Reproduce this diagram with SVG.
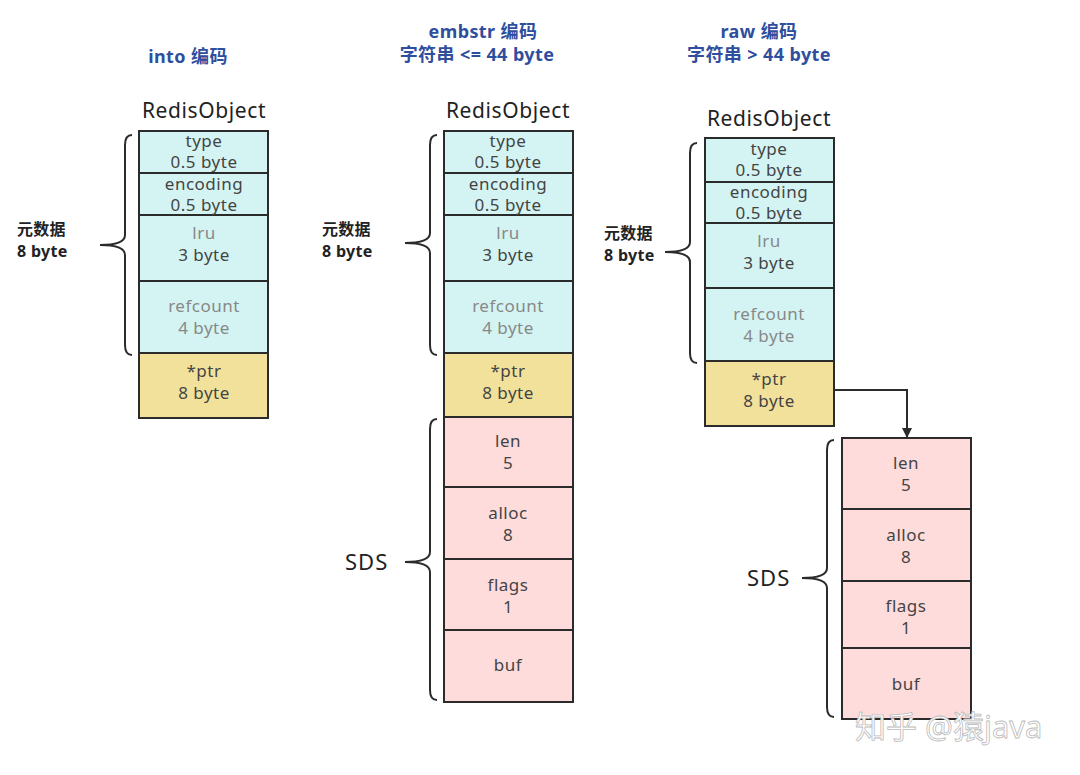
<svg xmlns="http://www.w3.org/2000/svg" width="1080" height="775" viewBox="0 0 1080 775">
<style>
text{font-family:"Noto Sans","Noto Sans CJK SC",sans-serif;text-anchor:middle;}
.title{fill:#2f4f9e;font-size:18px;font-weight:bold;letter-spacing:0.4px;}
.ro{fill:#222;font-size:21px;letter-spacing:0.6px;}
.cell{font-size:17px;fill:#444;letter-spacing:0.5px;}
.gray{fill:#888;}
.side{font-size:16px;fill:#222;text-anchor:start;font-weight:bold;letter-spacing:0.3px;}
.sds{font-size:22px;fill:#222;text-anchor:start;letter-spacing:1px;}
.cyan{fill:#d4f4f3;stroke:#2b2b2b;stroke-width:2;}
.yel{fill:#f2e19b;stroke:#2b2b2b;stroke-width:2;}
.pink{fill:#fedcdc;stroke:#2b2b2b;stroke-width:2;}
.brace{fill:none;stroke:#2b2b2b;stroke-width:2;}
.wm{font-size:31px;fill:#fff;stroke:#bbb;stroke-width:0.8;text-anchor:start;}
</style>
<defs>
<marker id="arr" markerWidth="10" markerHeight="10" refX="9" refY="5" orient="auto" markerUnits="userSpaceOnUse"><path d="M0,0 L10,5 L0,10 z" fill="#2b2b2b"/></marker>
</defs>
<rect width="1080" height="775" fill="#fff"/>

<g id="titles">
<text class="title" x="188" y="63">into 编码</text>
<text class="title" x="483" y="38">embstr 编码</text>
<text class="title" x="477" y="61">字符串 &lt;= 44 byte</text>
<text class="title" x="759" y="38">raw 编码</text>
<text class="title" x="759" y="61">字符串 &gt; 44 byte</text>
</g>

<g id="obj-int">
<text class="ro" x="204" y="118">RedisObject</text>
<rect class="cyan" x="139" y="131" width="129" height="42"/>
<rect class="cyan" x="139" y="173" width="129" height="42"/>
<rect class="cyan" x="139" y="215" width="129" height="66"/>
<rect class="cyan" x="139" y="281" width="129" height="72"/>
<rect class="yel" x="139" y="353" width="129" height="65"/>
<text class="cell" x="204" y="147">type</text>
<text class="cell" x="204" y="168">0.5 byte</text>
<text class="cell" x="204" y="190">encoding</text>
<text class="cell" x="204" y="211">0.5 byte</text>
<text class="cell gray" x="204" y="239">lru</text>
<text class="cell" x="204" y="261">3 byte</text>
<text class="cell gray" x="204" y="312">refcount</text>
<text class="cell gray" x="204" y="334">4 byte</text>
<text class="cell" x="204" y="377">*ptr</text>
<text class="cell" x="204" y="399">8 byte</text>
<path class="brace" d="M132,135 Q125,135 125,145 L125,235 Q125,245 100,245 Q125,245 125,255 L125,345 Q125,355 132,355"/>
<text class="side" x="17" y="235">元数据</text>
<text class="side" x="17" y="257">8 byte</text>
</g>

<g id="obj-embstr">
<text class="ro" x="508" y="118">RedisObject</text>
<rect class="cyan" x="444" y="131" width="129" height="42"/>
<rect class="cyan" x="444" y="173" width="129" height="42"/>
<rect class="cyan" x="444" y="215" width="129" height="66"/>
<rect class="cyan" x="444" y="281" width="129" height="72"/>
<rect class="yel" x="444" y="353" width="129" height="64"/>
<text class="cell" x="508" y="147">type</text>
<text class="cell" x="508" y="168">0.5 byte</text>
<text class="cell" x="508" y="190">encoding</text>
<text class="cell" x="508" y="211">0.5 byte</text>
<text class="cell gray" x="508" y="239">lru</text>
<text class="cell" x="508" y="261">3 byte</text>
<text class="cell gray" x="508" y="312">refcount</text>
<text class="cell gray" x="508" y="334">4 byte</text>
<text class="cell" x="508" y="377">*ptr</text>
<text class="cell" x="508" y="399">8 byte</text>
<path class="brace" d="M437,135 Q430,135 430,145 L430,233 Q430,243 405,243 Q430,243 430,253 L430,345 Q430,355 437,355"/>
<text class="side" x="322" y="235">元数据</text>
<text class="side" x="322" y="257">8 byte</text>
</g>

<g id="sds-embstr">
<rect class="pink" x="444" y="417" width="129" height="70"/>
<rect class="pink" x="444" y="487" width="129" height="72"/>
<rect class="pink" x="444" y="559" width="129" height="71"/>
<rect class="pink" x="444" y="630" width="129" height="72"/>
<text class="cell" x="508" y="447">len</text>
<text class="cell" x="508" y="469">5</text>
<text class="cell" x="508" y="519">alloc</text>
<text class="cell" x="508" y="541">8</text>
<text class="cell" x="508" y="591">flags</text>
<text class="cell" x="508" y="613">1</text>
<text class="cell" x="508" y="671">buf</text>
<path class="brace" d="M437,419 Q430,419 430,429 L430,552 Q430,562 405,562 Q430,562 430,572 L430,690 Q430,700 437,700"/>
<text class="sds" x="345" y="570">SDS</text>
</g>

<g id="obj-raw">
<text class="ro" x="769" y="126">RedisObject</text>
<rect class="cyan" x="705" y="138" width="129" height="44"/>
<rect class="cyan" x="705" y="182" width="129" height="41"/>
<rect class="cyan" x="705" y="223" width="129" height="65"/>
<rect class="cyan" x="705" y="288" width="129" height="73"/>
<rect class="yel" x="705" y="361" width="129" height="65"/>
<text class="cell" x="769" y="155">type</text>
<text class="cell" x="769" y="176">0.5 byte</text>
<text class="cell" x="769" y="198">encoding</text>
<text class="cell" x="769" y="219">0.5 byte</text>
<text class="cell gray" x="769" y="247">lru</text>
<text class="cell" x="769" y="269">3 byte</text>
<text class="cell gray" x="769" y="320">refcount</text>
<text class="cell gray" x="769" y="342">4 byte</text>
<text class="cell" x="769" y="385">*ptr</text>
<text class="cell" x="769" y="407">8 byte</text>
<path class="brace" d="M697,143 Q690,143 690,153 L690,242 Q690,252 665,252 Q690,252 690,262 L690,353 Q690,363 697,363"/>
<text class="side" x="604" y="239">元数据</text>
<text class="side" x="604" y="261">8 byte</text>
</g>

<g id="sds-raw">
<rect class="pink" x="842" y="438" width="129" height="71"/>
<rect class="pink" x="842" y="509" width="129" height="72"/>
<rect class="pink" x="842" y="581" width="129" height="67"/>
<rect class="pink" x="842" y="648" width="129" height="71"/>
<text class="cell" x="906" y="469">len</text>
<text class="cell" x="906" y="491">5</text>
<text class="cell" x="906" y="541">alloc</text>
<text class="cell" x="906" y="563">8</text>
<text class="cell" x="906" y="612">flags</text>
<text class="cell" x="906" y="634">1</text>
<text class="cell" x="906" y="690">buf</text>
<path class="brace" d="M834,440 Q827,440 827,450 L827,568 Q827,578 802,578 Q827,578 827,588 L827,707 Q827,717 834,717"/>
<text class="sds" x="747" y="586">SDS</text>
</g>

<g id="connectors">
<path d="M834,390 L907,390 L907,437" fill="none" stroke="#2b2b2b" stroke-width="2" marker-end="url(#arr)"/>
</g>

<text class="wm" x="855" y="738">知乎 @猿java</text>
</svg>
